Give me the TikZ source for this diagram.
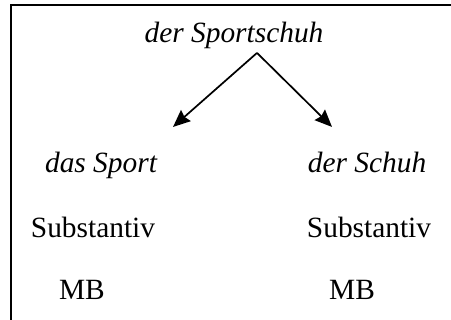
\documentclass[tikz,border=0pt]{standalone}
\usepackage{fontspec}
\setmainfont{Liberation Serif}
\usetikzlibrary{arrows.meta}
\tikzset{
  wordNode/.style={
    anchor=base,
    inner sep=0pt,
    font=\fontsize{12}{14}\selectfont
  },
  termNode/.style={wordNode, font=\fontsize{12}{14}\selectfont\itshape},
  splitArrow/.style={-{Stealth[length=7pt, width=6pt, inset=0.8pt]}, line width=0.7pt},
  frameLine/.style={line width=0.8pt}
}
\begin{document}
\begin{tikzpicture}[x=1cm,y=1cm]
  \useasboundingbox (0,0) rectangle (6.47,4.59);
  % the box runs on past the right and lower edges
  \draw[frameLine] (0.158,-0.5) rectangle (6.9,4.512);

  \node[termNode] (compound) at (3.357,3.974) {der Sportschuh};
  \coordinate (fork) at (3.687,3.831);
  \coordinate (tipLeft) at (2.482,2.769);
  \coordinate (tipRight) at (4.763,2.769);
  \draw[splitArrow] (fork) -- (tipLeft);
  \draw[splitArrow] (fork) -- (tipRight);

  \node[termNode] (firstPart) at (1.449,2.109) {das Sport};
  \node[termNode] (secondPart) at (5.265,2.109) {der Schuh};
  \node[wordNode] (firstClass) at (1.334,1.176) {Substantiv};
  \node[wordNode] (secondClass) at (5.294,1.176) {Substantiv};
  \node[wordNode] (firstTag) at (1.176,0.287) {MB};
  \node[wordNode] (secondTag) at (5.050,0.287) {MB};
\end{tikzpicture}
\end{document}
